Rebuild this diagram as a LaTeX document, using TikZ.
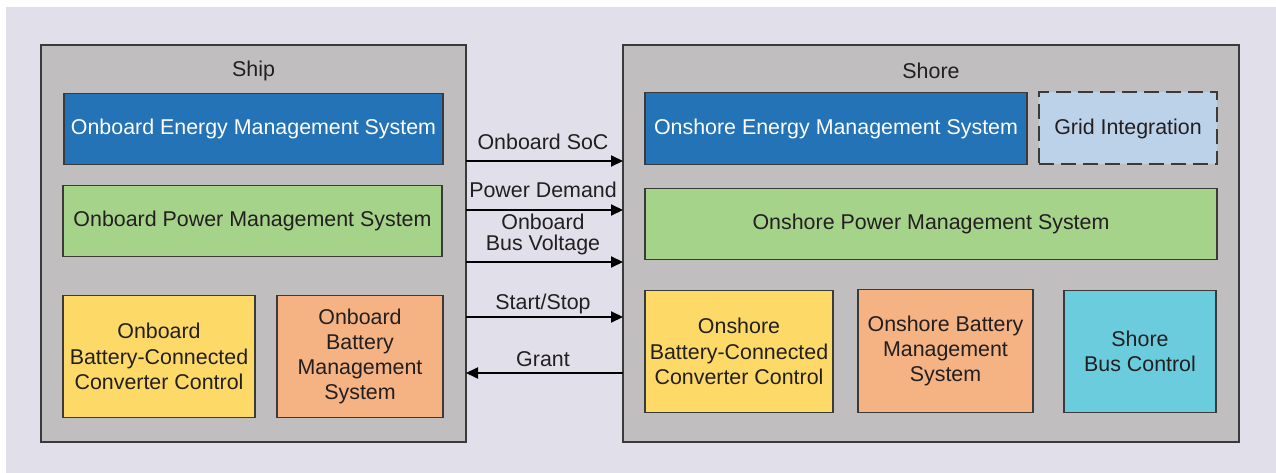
\documentclass[tikz,border=0pt]{standalone}
\usepackage{fontspec}
\setmainfont{Liberation Sans}
\usetikzlibrary{arrows.meta}
\definecolor{pagebg}{HTML}{E1DFE9}
\definecolor{panel}{HTML}{C0BEBF}
\definecolor{emsblue}{HTML}{2373B6}
\definecolor{pmsgreen}{HTML}{A5D38A}
\definecolor{bccyellow}{HTML}{FDDA68}
\definecolor{bmsorange}{HTML}{F5B283}
\definecolor{buscyan}{HTML}{6ACCDC}
\definecolor{gridblue}{HTML}{BBD2E9}
\definecolor{ink}{HTML}{231F20}
\definecolor{edge}{HTML}{3A3A3A}
\tikzset{
  txt/.style={font=\fontsize{21.4}{25.3}\selectfont, text=ink, align=center},
  panelbox/.style={draw=edge, line width=1.5pt, fill=panel, inner sep=0pt, outer sep=0pt},
  unit/.style={draw=edge, line width=1.5pt, inner sep=0pt, outer sep=0pt, txt},
  sig/.style={line width=2pt, draw=black, -{Triangle[length=12pt,width=11pt]}},
  siglabel/.style={font=\fontsize{21.4}{21}\selectfont, text=ink, align=center, inner sep=0pt}
}
\begin{document}
\begin{tikzpicture}[x=1pt,y=-1pt]
\useasboundingbox (0,0) rectangle (1276,473);
\fill[pagebg] (6,7) rectangle (1276,473);

% ship side
\node[panelbox, minimum width=425pt, minimum height=397pt] (ship) at (253.5,243.5) {};
\node[txt] (shiptitle) at (253.5,71) {Ship};
\node[unit, fill=emsblue, text=white, minimum width=379pt, minimum height=71pt] (oems) at (253.5,129) {Onboard Energy Management System};
\node[unit, fill=pmsgreen, minimum width=379pt, minimum height=71pt] (opms) at (252.5,221) {Onboard Power Management System};
\node[unit, fill=bccyellow, minimum width=192pt, minimum height=122pt] (obcc) at (159,356.5) {Onboard\\Battery-Connected\\Converter Control};
\node[unit, fill=bmsorange, minimum width=166pt, minimum height=122pt] (obms) at (360,356.5) {Onboard\\Battery\\Management\\System};

% shore side
\node[panelbox, minimum width=616pt, minimum height=397pt] (shore) at (931,243.5) {};
\node[txt] (shoretitle) at (931,71) {Shore};
\node[unit, fill=emsblue, text=white, minimum width=382pt, minimum height=72pt] (sems) at (836,128.5) {Onshore Energy Management System};
\node[unit, fill=gridblue, dash pattern=on 15pt off 7pt, line width=2pt, minimum width=178pt, minimum height=72pt] (grid) at (1128,128.5) {Grid Integration};
\node[unit, fill=pmsgreen, minimum width=572pt, minimum height=71pt] (spms) at (931,224) {Onshore Power Management System};
\node[unit, fill=bccyellow, minimum width=188pt, minimum height=122pt] (sbcc) at (739,351.5) {Onshore\\Battery-Connected\\Converter Control};
\node[unit, fill=bmsorange, minimum width=175pt, minimum height=123pt] (sbms) at (945.5,351) {Onshore Battery\\Management\\System};
\node[unit, fill=buscyan, minimum width=152pt, minimum height=122pt] (sbus) at (1140,351.5) {Shore\\Bus Control};

% signals exchanged between ship and shore
\draw[sig] (ship.east |- 0,161) -- (shore.west |- 0,161);
\draw[sig] (ship.east |- 0,210) -- (shore.west |- 0,210);
\draw[sig] (ship.east |- 0,262) -- (shore.west |- 0,262);
\draw[sig] (ship.east |- 0,317) -- (shore.west |- 0,317);
\draw[sig] (shore.west |- 0,373) -- (ship.east |- 0,373);

\node[siglabel] (l1) at (543,141.5) {Onboard SoC};
\node[siglabel] (l2) at (543,189.5) {Power Demand};
\node[siglabel] (l3) at (543,234) {Onboard\\Bus Voltage};
\node[siglabel] (l4) at (543,303.5) {Start/Stop};
\node[siglabel] (l5) at (543,359.5) {Grant};
\end{tikzpicture}
\end{document}
